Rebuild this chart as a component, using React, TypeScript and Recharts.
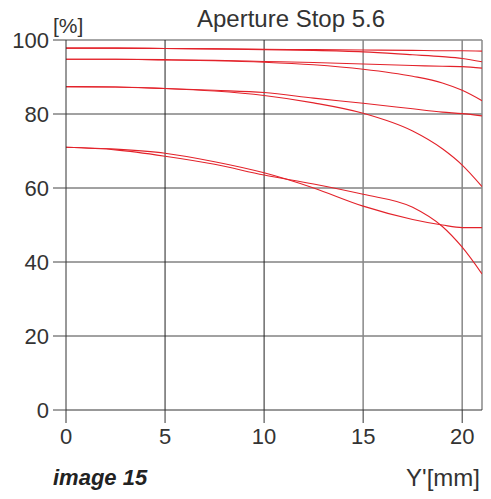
import React from "react";
import { LineChart, Line, XAxis, YAxis, ReferenceLine } from "recharts";

// Image height Y' [mm]
const imageHeight = [0, 2.5, 5, 7.5, 10, 12.5, 15, 17.5, 19, 20, 21];

// Contrast curves [%]
const curveA1 = [97.8, 97.8, 97.7, 97.6, 97.5, 97.4, 97.3, 97.2, 97.1, 97.1, 97.0];
const curveA2 = [97.8, 97.8, 97.7, 97.6, 97.4, 97.2, 96.8, 96.0, 95.5, 95.0, 94.1];
const curveB1 = [94.8, 94.8, 94.7, 94.5, 94.2, 93.9, 93.5, 93.1, 92.9, 92.8, 92.4];
const curveB2 = [94.8, 94.8, 94.6, 94.4, 94.0, 93.3, 92.1, 90.2, 88.4, 86.4, 83.6];
const curveC1 = [87.4, 87.3, 86.9, 86.4, 85.8, 84.3, 82.9, 81.4, 80.5, 80.1, 79.5];
const curveC2 = [87.4, 87.3, 86.9, 86.2, 85.0, 83.0, 80.2, 75.4, 70.6, 66.2, 60.4];
const curveD1 = [71.0, 70.5, 69.4, 67.1, 64.1, 60.0, 55.1, 51.5, 50.0, 49.3, 49.3];
const curveD2 = [71.0, 70.3, 68.6, 66.4, 63.5, 61.1, 58.3, 54.8, 49.6, 44.0, 36.8];

const xTicks = [0, 5, 10, 15, 20];
const yTicks = [0, 20, 40, 60, 80, 100];

const title = "Aperture Stop 5.6";
const yUnit = "[%]";
const xUnit = "Y'[mm]";
const caption = "image 15";

const seriesKeys = ["A1", "A2", "B1", "B2", "C1", "C2", "D1", "D2"];
const seriesValues = [curveA1, curveA2, curveB1, curveB2, curveC1, curveC2, curveD1, curveD2];

const data = imageHeight.map((x, i) => {
  const row: Record<string, number> = { x };
  seriesKeys.forEach((k, j) => {
    row[k] = seriesValues[j][i];
  });
  return row;
});

const FONT = "'Liberation Sans', Arial, sans-serif";
const RED = "#e3222a";
const W = 483;
const H = 491;

export default function App() {
  return (
    <div style={{ position: "relative", width: W, height: H, fontFamily: FONT }}>
      <LineChart
        width={W}
        height={H}
        data={data}
        margin={{ top: 32, right: 9, bottom: 49, left: 0 }}
      >
        <XAxis
          dataKey="x"
          type="number"
          domain={[0, 21]}
          ticks={xTicks}
          allowDataOverflow
          height={40}
          tickSize={13}
          tickMargin={5}
          stroke="#333"
          tickLine={{ stroke: "#333" }}
          axisLine={{ stroke: "#333" }}
          tick={{ fill: "#333", fontSize: 22, fontFamily: FONT }}
        />
        <YAxis
          type="number"
          domain={[0, 100]}
          ticks={yTicks}
          width={58}
          tickSize={13}
          tickMargin={4}
          stroke="#333"
          tickLine={{ stroke: "#444" }}
          axisLine={{ stroke: "#333" }}
          tick={{ fill: "#333", fontSize: 22, fontFamily: FONT }}
        />
        {[20, 40, 60, 80].map((v) => (
          <ReferenceLine key={"h" + v} y={v} stroke="#444" strokeWidth={1} />
        ))}
        <ReferenceLine y={100} stroke="#888" strokeWidth={1.5} />
        {[5, 10].map((v) => (
          <ReferenceLine key={"v" + v} x={v} stroke="#222" strokeWidth={1} />
        ))}
        {[15, 20, 21].map((v) => (
          <ReferenceLine key={"g" + v} x={v} stroke="#888" strokeWidth={1.5} />
        ))}
        {seriesKeys.map((k) => (
          <Line
            key={k}
            dataKey={k}
            type="monotone"
            stroke={RED}
            strokeWidth={1.1}
            dot={false}
            activeDot={false}
            isAnimationActive={false}
          />
        ))}
      </LineChart>
      <svg
        width={491}
        height={499}
        style={{ position: "absolute", left: -8, top: -8, pointerEvents: "none", overflow: "visible" }}
      >
        <text x={291} y={27} textAnchor="middle" fontSize={24} fill="#333" fontFamily={FONT}>
          {title}
        </text>
        <text x={53} y={33} fontSize={21} fill="#333" fontFamily={FONT}>
          {yUnit}
        </text>
        <text x={53} y={485} fontSize={22} fontWeight="bold" fontStyle="italic" fill="#222" fontFamily={FONT}>
          {caption}
        </text>
        <text x={480} y={486} textAnchor="end" fontSize={24} fill="#333" fontFamily={FONT}>
          {xUnit}
        </text>
      </svg>
    </div>
  );
}
